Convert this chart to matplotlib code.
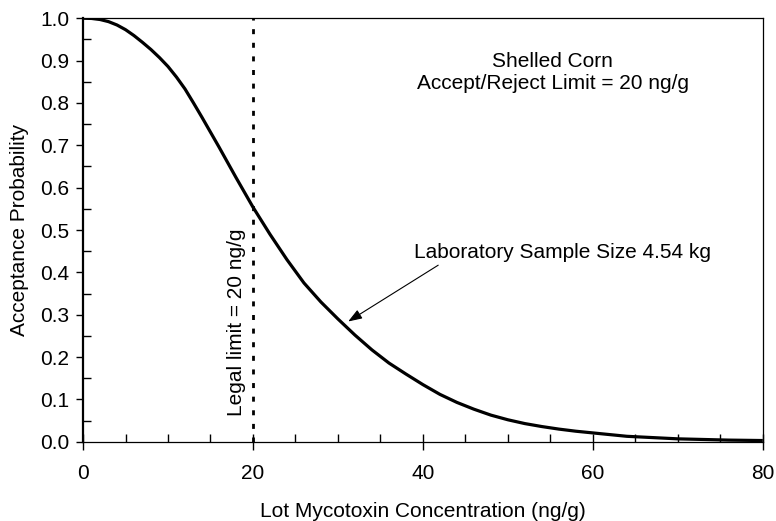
import matplotlib.pyplot as plt
from matplotlib.ticker import MultipleLocator

plt.rcParams['font.family'] = ['Liberation Sans', 'DejaVu Sans']

# operating characteristic curve
conc = [0, 1, 2, 3, 4, 5, 6, 7, 8, 9, 10, 11, 12, 13, 14, 15, 16, 17, 18,
        19, 20, 22, 24, 26, 28, 30, 32, 34, 36, 38, 40, 42, 44, 46, 48, 50,
        52, 54, 56, 58, 60, 62, 64, 66, 68, 70, 72, 74, 76, 78, 80]
prob = [1.000, 0.9995, 0.997, 0.992, 0.984, 0.973, 0.959, 0.943, 0.926,
        0.907, 0.886, 0.861, 0.833, 0.800, 0.766, 0.731, 0.696, 0.660,
        0.624, 0.589, 0.554, 0.490, 0.430, 0.375, 0.330, 0.290, 0.252,
        0.217, 0.186, 0.160, 0.135, 0.112, 0.093, 0.077, 0.063, 0.052,
        0.043, 0.036, 0.030, 0.025, 0.021, 0.017, 0.013, 0.011, 0.009,
        0.007, 0.006, 0.005, 0.004, 0.0035, 0.003]
legal_limit = 20

fig = plt.figure(figsize=(7.76, 5.21), dpi=100)
ax = fig.add_axes([0.107, 0.152, 0.876, 0.813])

ax.plot(conc, prob, color='black', lw=2.3, solid_capstyle='butt')
ax.plot([legal_limit, legal_limit], [0, 1], color='black', lw=2.0,
        linestyle=(0, (1.8, 3.1)))

ax.set_xlim(0, 80)
ax.set_ylim(0, 1.0)
ax.xaxis.set_major_locator(MultipleLocator(20))
ax.xaxis.set_minor_locator(MultipleLocator(5))
ax.yaxis.set_major_locator(MultipleLocator(0.1))
ax.yaxis.set_minor_locator(MultipleLocator(0.05))
ax.yaxis.set_major_formatter(lambda v, p: f'{v:.1f}')

fs = 15
ax.tick_params(axis='x', which='major', direction='inout', length=12, width=1,
               labelsize=fs, pad=10)
ax.tick_params(axis='x', which='minor', direction='in', length=6, width=1)
ax.tick_params(axis='y', which='major', direction='out', length=5, width=1,
               labelsize=fs, pad=5)
ax.tick_params(axis='y', which='minor', direction='in', length=6, width=1)

ax.spines['left'].set_linewidth(1.6)
for s in ['bottom', 'top', 'right']:
    ax.spines[s].set_linewidth(0.9)

ax.set_xlabel('Lot Mycotoxin Concentration (ng/g)', fontsize=fs, labelpad=14)
ax.set_ylabel('Acceptance Probability', fontsize=fs, labelpad=8)

ax.text(55.3, 0.871, 'Shelled Corn\nAccept/Reject Limit = 20 ng/g',
        ha='center', va='center', fontsize=fs, linespacing=1.2)
ax.text(18.1, 0.283, 'Legal limit = 20 ng/g', rotation=90,
        ha='center', va='center', fontsize=fs)
ax.text(39.0, 0.446, 'Laboratory Sample Size 4.54 kg', ha='left',
        va='center', fontsize=fs)
ax.annotate('', xy=(31.2, 0.284), xytext=(41.8, 0.417),
            arrowprops=dict(arrowstyle='-|>,head_length=0.7,head_width=0.25',
                            color='black', lw=0.8, shrinkA=0, shrinkB=0,
                            mutation_scale=12))

fig.savefig('out.png', dpi=100)
